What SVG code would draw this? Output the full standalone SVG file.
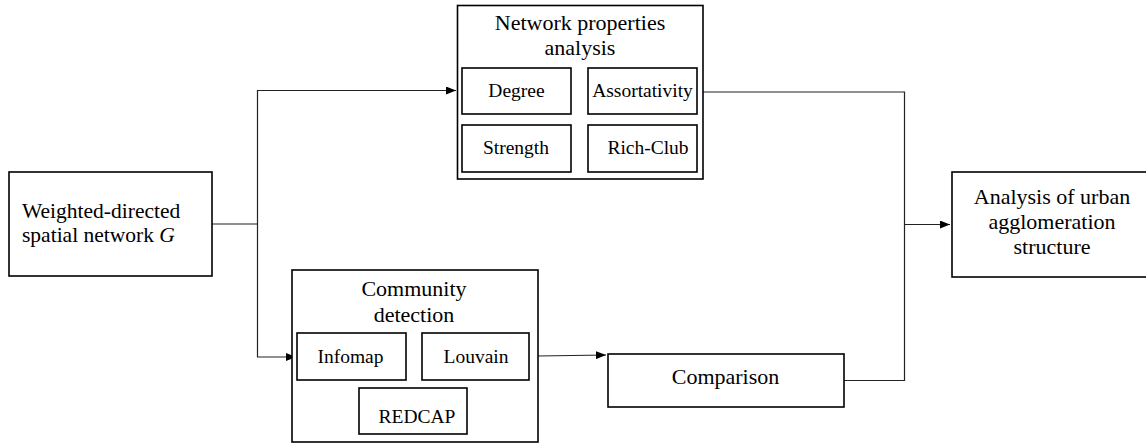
<svg xmlns="http://www.w3.org/2000/svg" width="1146" height="444" viewBox="0 0 1146 444">
<defs>
<style>
.box{fill:#fff;stroke:#000;stroke-width:1.6}
.ln{fill:none;stroke:#222;stroke-width:1.2}
.t{font-family:"Liberation Serif","Times New Roman",serif;font-size:22px;fill:#000}
.s{font-family:"Liberation Serif","Times New Roman",serif;font-size:19.5px;fill:#000;text-anchor:middle}
.c{text-anchor:middle}
</style>
<marker id="ah" markerWidth="10" markerHeight="8" refX="10" refY="4" orient="auto" markerUnits="userSpaceOnUse">
<path d="M0,0 L10,4 L0,8 Z" fill="#000"/>
</marker>
</defs>
<rect width="1146" height="444" fill="#fff"/>
<g id="connectors">
<polyline class="ln" points="212,224 257.5,224"/>
<polyline class="ln" points="257.5,224 257.5,90.5 456,90.5" marker-end="url(#ah)"/>
<polyline class="ln" points="257.5,224 257.5,357 296,357" marker-end="url(#ah)"/>
<polyline class="ln" points="697,92 904.5,92 904.5,224.5 950,224.5" marker-end="url(#ah)"/>
<polyline class="ln" points="844,380.5 904.5,380.5 904.5,224.5"/>
<polyline class="ln" points="538,356 606,355" marker-end="url(#ah)"/>
</g>
<g id="input">
<rect class="box" x="9" y="172" width="203" height="104"/>
<text class="t" x="22" y="218" style="font-size:21.5px">Weighted-directed</text>
<text class="t" x="22" y="242" style="font-size:21.5px">spatial network <tspan font-style="italic">G</tspan></text>
</g>
<g id="network-properties">
<rect class="box" x="457.5" y="5.5" width="245.5" height="173.5"/>
<text class="t c" x="580" y="30">Network properties</text>
<text class="t c" x="580" y="55">analysis</text>
<g id="degree"><rect class="box" x="462" y="68" width="109" height="46"/><text class="s" x="516.5" y="97">Degree</text></g>
<g id="assortativity"><rect class="box" x="588" y="68" width="109" height="46"/><text class="s" x="642.5" y="97">Assortativity</text></g>
<g id="strength"><rect class="box" x="462" y="125" width="109" height="47"/><text class="s" x="516" y="154">Strength</text></g>
<g id="rich-club"><rect class="box" x="588" y="125" width="109" height="47"/><text class="s" x="648" y="154">Rich-Club</text></g>
</g>
<g id="community-detection">
<rect class="box" x="292" y="270" width="246" height="172"/>
<text class="t c" x="414" y="296">Community</text>
<text class="t c" x="414" y="322">detection</text>
<g id="infomap"><rect class="box" x="297" y="333" width="109" height="47"/><text class="s" x="350.5" y="363">Infomap</text></g>
<g id="louvain"><rect class="box" x="422" y="333" width="107" height="47"/><text class="s" x="476" y="363">Louvain</text></g>
<g id="redcap"><rect class="box" x="359" y="388" width="108" height="46"/><text class="s" x="417" y="423">REDCAP</text></g>
</g>
<g id="comparison">
<rect class="box" x="608" y="354" width="236" height="53"/>
<text class="t c" x="725.5" y="384">Comparison</text>
</g>
<g id="output">
<rect class="box" x="952" y="172" width="200" height="105"/>
<text class="t c" x="1052" y="204">Analysis of urban</text>
<text class="t c" x="1052" y="229">agglomeration</text>
<text class="t c" x="1052" y="254">structure</text>
</g>
</svg>
